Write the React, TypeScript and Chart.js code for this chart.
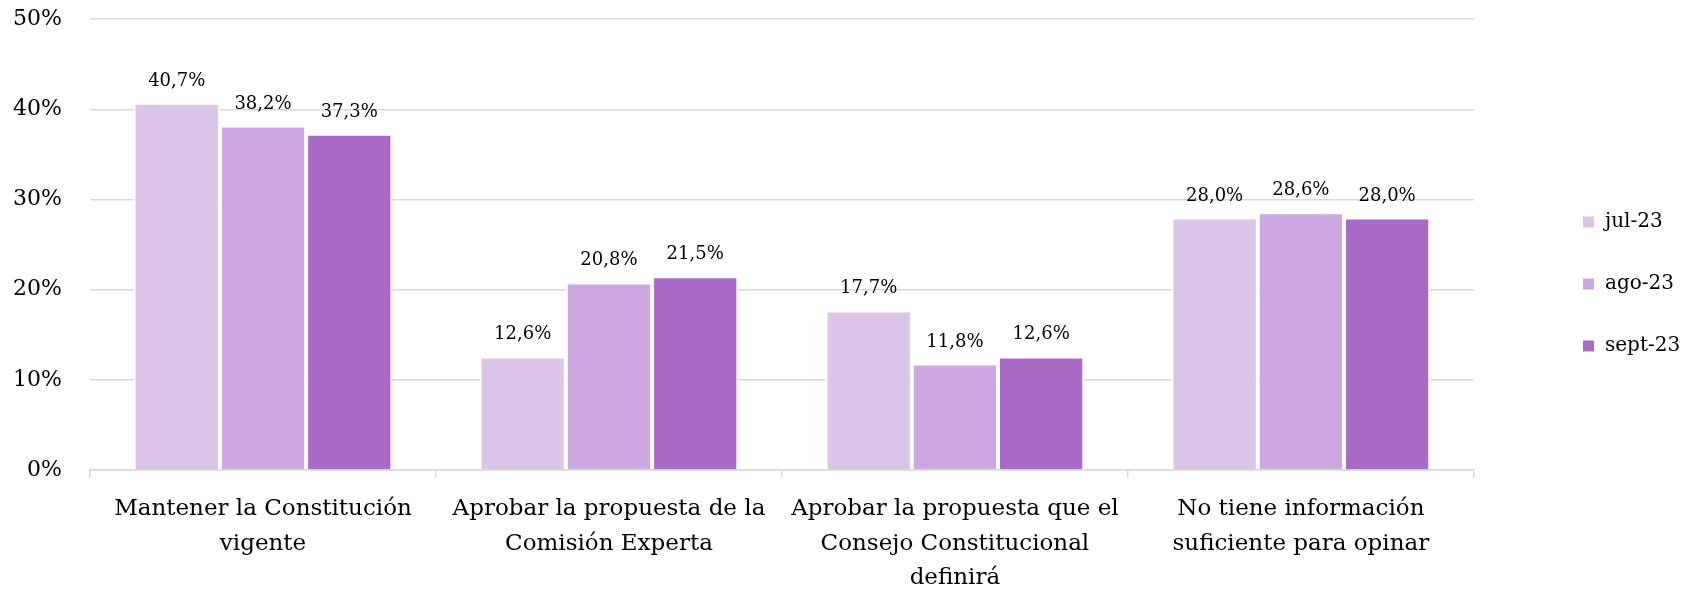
import { useEffect, useRef } from 'react';
import { Chart, registerables } from 'chart.js';

Chart.register(...registerables);

const categories: string[][] = [
  ['Mantener la Constitución', 'vigente'],
  ['Aprobar la propuesta de la', 'Comisión Experta'],
  ['Aprobar la propuesta que el', 'Consejo Constitucional', 'definirá'],
  ['No tiene información', 'suficiente para opinar'],
];
const seriesNames = ['jul-23', 'ago-23', 'sept-23'];
const jul23 = [40.7, 12.6, 17.7, 28.0];
const ago23 = [38.2, 20.8, 11.8, 28.6];
const sept23 = [37.3, 21.5, 12.6, 28.0];
const seriesColors = ['#DCC3E8', '#CCA7E0', '#A96BC6'];
const yTicks = [0, 10, 20, 30, 40, 50];

const FONT = '"DejaVu Serif", serif';

const dataLabels = {
  id: 'dataLabels',
  afterDatasetsDraw(chart: any) {
    const ctx = chart.ctx;
    ctx.save();
    ctx.font = `18px ${FONT}`;
    ctx.fillStyle = '#000';
    ctx.textAlign = 'center';
    ctx.textBaseline = 'alphabetic';
    chart.data.datasets.forEach((ds: any, di: number) => {
      const meta = chart.getDatasetMeta(di);
      meta.data.forEach((bar: any, i: number) => {
        const v = ds.data[i] as number;
        ctx.fillText(v.toFixed(1).replace('.', ',') + '%', bar.x, bar.y - 17);
      });
    });
    ctx.restore();
  },
};

const legendPlace = {
  id: 'legendPlace',
  afterLayout(chart: any) {
    const lg = chart.legend;
    if (!lg) return;
    const w = lg.width;
    lg.left = 1540;
    lg.right = 1540 + w;
    lg.top = 0;
    lg.bottom = 568;
  },
};

export default function App() {
  const ref = useRef<HTMLCanvasElement | null>(null);

  useEffect(() => {
    if (!ref.current) return;
    const series = [jul23, ago23, sept23];
    const chart = new Chart(ref.current, {
      type: 'bar',
      data: {
        labels: categories,
        datasets: series.map((d, i) => ({
          label: seriesNames[i],
          data: d,
          backgroundColor: seriesColors[i],
          borderColor: '#FFFFFF',
          borderWidth: 2,
          categoryPercentage: 0.748,
          barPercentage: 1.0,
        })),
      },
      options: {
        animation: false,
        responsive: false,
        devicePixelRatio: 1,
        layout: { padding: { top: 19, right: 80, bottom: 0, left: 0 } },
        plugins: {
          legend: {
            position: 'right',
            align: 'center',
            labels: {
              font: { family: FONT, size: 20 },
              color: '#000',
              boxWidth: 13,
              boxHeight: 13,
              padding: 42,
            },
          },
          tooltip: { enabled: false },
          title: { display: false },
        },
        scales: {
          x: {
            grid: {
              display: true,
              drawOnChartArea: false,
              drawTicks: true,
              tickLength: 8,
              color: '#D9D9D9',
              lineWidth: 1.5,
              offset: true,
            },
            border: { display: true, color: '#D9D9D9', width: 1.5 },
            ticks: {
              font: { family: FONT, size: 23, lineHeight: 1.5 },
              color: '#000',
              padding: 14,
              maxRotation: 0,
              autoSkip: false,
            },
            afterFit: (s: any) => {
              s.height = 121;
            },
          },
          y: {
            min: yTicks[0],
            max: yTicks[yTicks.length - 1],
            ticks: {
              stepSize: 10,
              callback: (v: any) => `${v}%`,
              font: { family: FONT, size: 22 },
              color: '#000',
              padding: 6,
            },
            grid: {
              color: '#D9D9D9',
              lineWidth: 1.5,
              drawTicks: true,
              tickLength: 22,
              tickColor: 'rgba(0,0,0,0)',
            },
            border: { display: false },
            afterFit: (s: any) => {
              s.width = 90;
            },
          },
        },
      },
      plugins: [dataLabels, legendPlace],
    });
    return () => chart.destroy();
  }, []);

  return (
    <div style={{ position: 'absolute', left: 0, top: 0, width: 1704, height: 591, background: '#fff' }}>
      <canvas ref={ref} width={1704} height={591} style={{ display: 'block', width: 1704, height: 591 }} />
    </div>
  );
}
